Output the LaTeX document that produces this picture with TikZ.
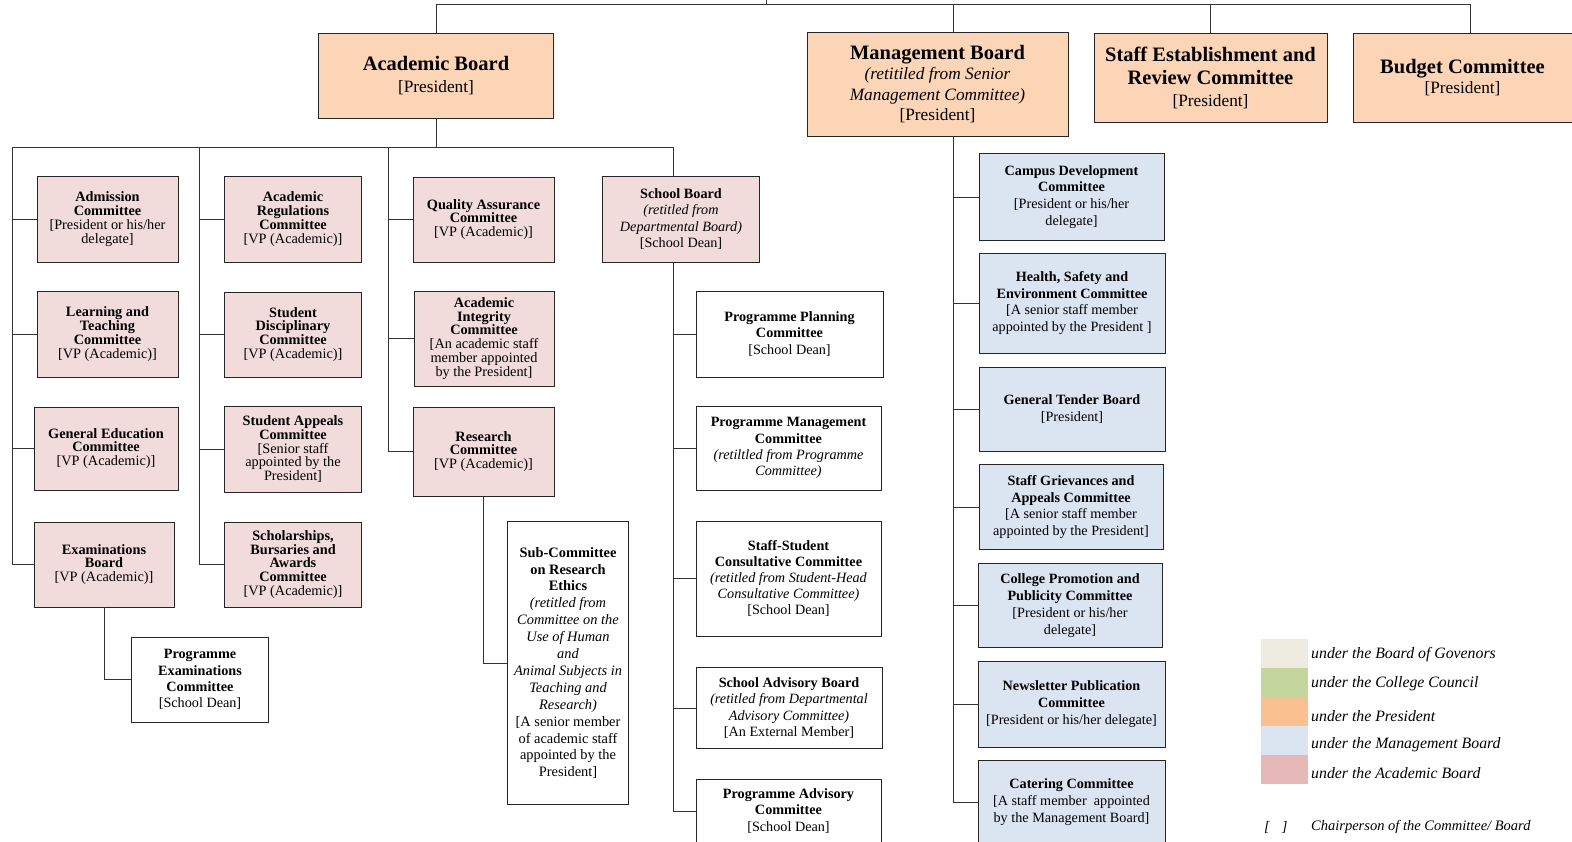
\documentclass[tikz,border=0pt]{standalone}
\usepackage{fontspec}
\setmainfont{Liberation Serif}
\definecolor{presfill}{HTML}{FBD5B5}
\definecolor{acadfill}{HTML}{F2DCDB}
\definecolor{mgmtfill}{HTML}{DBE5F1}
\definecolor{govkey}{HTML}{EEECE1}
\definecolor{councilkey}{HTML}{C3D69B}
\definecolor{preskey}{HTML}{FAC090}
\definecolor{mgmtkey}{HTML}{DBE5F1}
\definecolor{acadkey}{HTML}{E6B9B8}
\tikzset{
  box/.style={draw=black!85,line width=0.8pt,align=center,inner sep=1pt,anchor=center},
  topbox/.style={box,fill=presfill,font=\fontsize{17.3}{20.5}\selectfont},
  acbox/.style={box,fill=acadfill,font=\fontsize{14.3}{13.9}\selectfont},
  mgbox/.style={box,fill=mgmtfill,font=\fontsize{14.2}{16.8}\selectfont},
  wbox/.style={box,fill=white,font=\fontsize{14.2}{16.2}\selectfont},
  link/.style={draw=black!80,line width=0.8pt},
  key/.style={anchor=west,inner sep=0pt,font=\fontsize{15.8}{16}\selectfont\itshape},
}
\begin{document}
\begin{tikzpicture}[x=1pt,y=-1pt]
        \useasboundingbox (0,0) rectangle (1572,842);
        %% Boards under the President
        \node[topbox,minimum width=235pt,minimum height=85pt] (acb) at (436,75.5) {{\fontsize{20.5}{22}\selectfont\bfseries Academic Board}\\[1pt]{}[President]};
        \node[topbox,minimum width=261pt,minimum height=104pt] (mb) at (937.5,84) {{\fontsize{20.5}{22}\selectfont\bfseries Management Board}\\ \textit{(retitiled from Senior}\\ \textit{Management Committee)}\\{}[President]};
        \node[topbox,minimum width=233pt,minimum height=89pt] (seb) at (1210.5,77.5) {{\fontsize{20.5}{22}\selectfont\bfseries Staff Establishment and}\\[3pt] {\fontsize{20.5}{22}\selectfont\bfseries Review Committee}\\[1pt]{}[President]};
        \node[topbox,minimum width=219pt,minimum height=89pt] (bc) at (1462.5,77.5) {{\fontsize{20.5}{22}\selectfont\bfseries Budget Committee}\\{}[President]};
        %% Academic Board committees
        \node[acbox,minimum width=141pt,minimum height=86pt] (adm) at (107.5,219) {\textbf{Admission}\\ \textbf{Committee}\\{}[President or his/her\\ delegate]};
        \node[acbox,minimum width=141pt,minimum height=86pt] (lt) at (107.5,334) {\textbf{Learning and}\\ \textbf{Teaching}\\ \textbf{Committee}\\{}[VP (Academic)]};
        \node[acbox,minimum width=144pt,minimum height=83pt] (ge) at (106,448.5) {\textbf{General Education}\\ \textbf{Committee}\\{}[VP (Academic)]};
        \node[acbox,minimum width=140pt,minimum height=85pt] (exb) at (104,564.5) {\textbf{Examinations}\\ \textbf{Board}\\{}[VP (Academic)]};
        \node[acbox,minimum width=137pt,minimum height=86pt] (arc) at (293,219) {\textbf{Academic}\\ \textbf{Regulations}\\ \textbf{Committee}\\{}[VP (Academic)]};
        \node[acbox,minimum width=137pt,minimum height=85pt] (sdc) at (293,334.5) {\textbf{Student}\\ \textbf{Disciplinary}\\ \textbf{Committee}\\{}[VP (Academic)]};
        \node[acbox,minimum width=137pt,minimum height=86pt] (sac) at (293,449) {\textbf{Student Appeals}\\ \textbf{Committee}\\{}[Senior staff\\ appointed by the\\ President]};
        \node[acbox,minimum width=137pt,minimum height=85pt] (sbac) at (293,564.5) {\textbf{Scholarships,}\\ \textbf{Bursaries and}\\ \textbf{Awards}\\ \textbf{Committee}\\{}[VP (Academic)]};
        \node[acbox,minimum width=141pt,minimum height=85pt] (qac) at (483.5,219.5) {\textbf{Quality Assurance}\\ \textbf{Committee}\\{}[VP (Academic)]};
        \node[acbox,minimum width=140pt,minimum height=95pt] (aic) at (484,338.5) {\textbf{Academic}\\ \textbf{Integrity}\\ \textbf{Committee}\\{}[An academic staff\\ member appointed\\ by the President]};
        \node[acbox,minimum width=141pt,minimum height=89pt] (rc) at (483.5,451.5) {\textbf{Research}\\ \textbf{Committee}\\{}[VP (Academic)]};
        \node[acbox,minimum width=157pt,minimum height=86pt,font=\fontsize{14.2}{16.5}\selectfont] (sb) at (681,219) {\textbf{School Board}\\ \textit{(retitled from}\\ \textit{Departmental Board)}\\{}[School Dean]};
        %% Sub-committees
        \node[wbox,minimum width=137pt,minimum height=85pt] (pec) at (200,679.5) {\textbf{Programme}\\ \textbf{Examinations}\\ \textbf{Committee}\\{}[School Dean]};
        \node[wbox,minimum width=121pt,minimum height=283pt,font=\fontsize{14.4}{16.9}\selectfont] (src) at (568,663) {\textbf{Sub-Committee}\\ \textbf{on Research}\\ \textbf{Ethics}\\ \textit{(retitled from}\\ \textit{Committee on the}\\ \textit{Use of Human}\\ \textit{and}\\ \textit{Animal Subjects in}\\ \textit{Teaching and}\\ \textit{Research)}\\{}[A senior member\\ of academic staff\\ appointed by the\\ President]};
        \node[wbox,minimum width=187pt,minimum height=86pt] (ppc) at (789.5,334) {\textbf{Programme Planning}\\ \textbf{Committee}\\{}[School Dean]};
        \node[wbox,minimum width=185pt,minimum height=84pt] (pmc) at (788.5,448) {\textbf{Programme Management}\\ \textbf{Committee}\\ \textit{(retiltled from Programme}\\ \textit{Committee)}};
        \node[wbox,minimum width=185pt,minimum height=115pt] (ssc) at (788.5,578.5) {\textbf{Staff-Student}\\ \textbf{Consultative Committee}\\ \textit{(retitled from Student-Head}\\ \textit{Consultative Committee)}\\{}[School Dean]};
        \node[wbox,minimum width=186pt,minimum height=81pt] (sab) at (789,708) {\textbf{School Advisory Board}\\ \textit{(retitled from Departmental}\\ \textit{Advisory Committee)}\\{}[An External Member]};
        \node[wbox,minimum width=185pt,minimum height=63pt] (pac) at (788.5,811) {\textbf{Programme Advisory}\\ \textbf{Committee}\\{}[School Dean]};
        %% Management Board committees
        \node[mgbox,minimum width=185pt,minimum height=87pt] (cdc) at (1071.5,197) {\textbf{Campus Development}\\ \textbf{Committee}\\{}[President or his/her\\ delegate]};
        \node[mgbox,minimum width=186pt,minimum height=100pt] (hse) at (1072,303) {\textbf{Health, Safety and}\\ \textbf{Environment Committee}\\{}[A senior staff member\\ appointed by the President ]};
        \node[mgbox,minimum width=186pt,minimum height=84pt] (gtb) at (1072,409) {\textbf{General Tender Board}\\{}[President]};
        \node[mgbox,minimum width=184pt,minimum height=85pt] (sgac) at (1071,507) {\textbf{Staff Grievances and}\\ \textbf{Appeals Committee}\\{}[A senior staff member\\ appointed by the President]};
        \node[mgbox,minimum width=184pt,minimum height=84pt] (cpp) at (1070,605.5) {\textbf{College Promotion and}\\ \textbf{Publicity Committee}\\{}[President or his/her\\ delegate]};
        \node[mgbox,minimum width=187pt,minimum height=86pt] (npc) at (1071.5,704) {\textbf{Newsletter Publication}\\ \textbf{Committee}\\{}[President or his/her delegate]};
        \node[mgbox,minimum width=187pt,minimum height=83pt] (cc) at (1071.5,802) {\textbf{Catering Committee}\\{}[A staff member\ \ appointed\\ by the Management Board]};
        %% Lines
        \coordinate (root) at (766,0);
        \coordinate (topl) at (436,4);
        \coordinate (mtop) at (953,4);
        \coordinate (btop) at (1470,4);
        \coordinate (abus) at (12,147);
        \coordinate (bbus) at (199.5,147);
        \coordinate (cbus) at (388,147);
        \coordinate (sbus) at (673,147);
        \draw[link] (acb.north) -- (acb.north|-topl) -- (btop) -- (btop|-bc.north);
        \draw[link] (root) -- (root|-topl);
        \draw[link] (mtop) -- (mtop|-mb.north);
        \draw[link] (seb.north) -- (seb.north|-topl);
        \draw[link] (acb.south) -- (acb.south|-abus);
        \draw[link] (abus) -- (sbus) -- (sbus|-sb.north);
        \draw[link] (abus) |- (adm.west) (abus) |- (lt.west) (abus) |- (ge.west) (abus) |- (exb.west);
        \draw[link] (bbus) |- (arc.west) (bbus) |- (sdc.west) (bbus) |- (sac.west) (bbus) |- (sbac.west);
        \draw[link] (cbus) |- (qac.west) (cbus) |- (aic.west) (cbus) |- (rc.west);
        \draw[link] (exb.south) |- (pec.west);
        \draw[link] (rc.south) |- (src.west);
        \draw[link] (sbus|-sb.south) |- (ppc.west) (sbus|-sb.south) |- (pmc.west) (sbus|-sb.south) |- (ssc.west) (sbus|-sb.south) |- (sab.west) (sbus|-sb.south) |- (pac.west);
        \draw[link] (mtop|-mb.south) |- (cdc.west) (mtop|-mb.south) |- (hse.west) (mtop|-mb.south) |- (gtb.west) (mtop|-mb.south) |- (sgac.west) (mtop|-mb.south) |- (cpp.west) (mtop|-mb.south) |- (npc.west) (mtop|-mb.south) |- (cc.west);
        %% Key
        \fill[govkey] (1261,639) rectangle (1308,668);
        \fill[councilkey] (1261,668) rectangle (1308,697);
        \fill[preskey] (1261,697) rectangle (1308,726);
        \fill[mgmtkey] (1261,726) rectangle (1308,755);
        \fill[acadkey] (1261,755) rectangle (1308,784);
        \node[key] (kgov) at (1311,655) {under the Board of Govenors};
        \node[key] (kcouncil) at (1311,684) {under the College Council};
        \node[key] (kpres) at (1311,716) {under the President};
        \node[key] (kmgmt) at (1311,745) {under the Management Board};
        \node[key] (kacad) at (1311,773) {under the Academic Board};
        \node[key,font=\fontsize{14.5}{15}\selectfont\itshape] (kbr) at (1264,827) {[\hspace{12pt}]};
        \node[key,font=\fontsize{14.5}{15}\selectfont\itshape] (kchair) at (1311,827) {Chairperson of the Committee/ Board};
\end{tikzpicture}
\end{document}
